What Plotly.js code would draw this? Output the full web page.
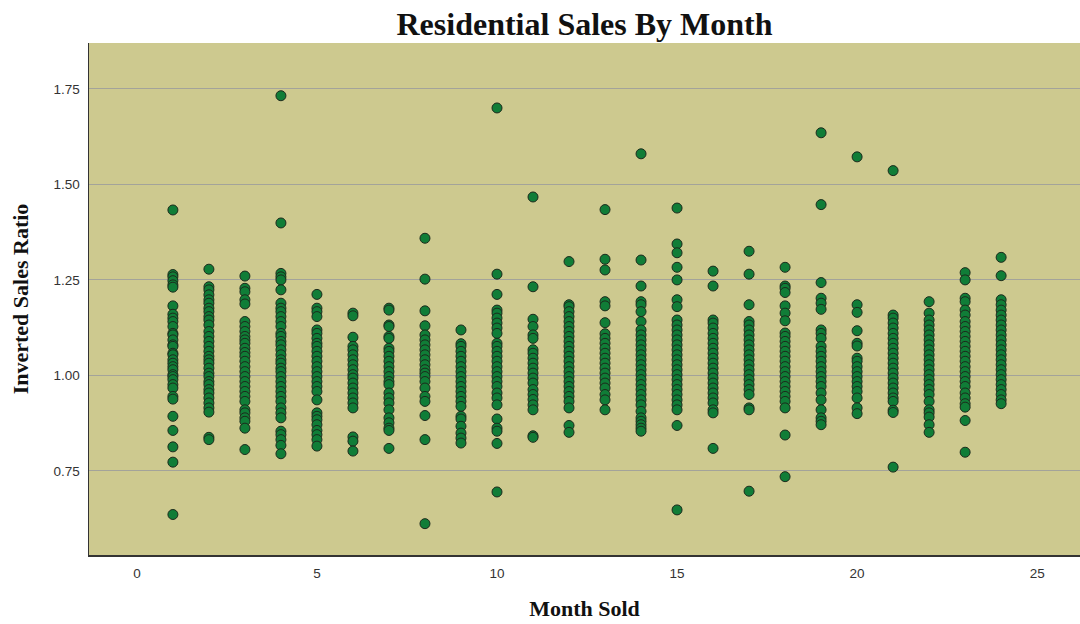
<!DOCTYPE html>
<html>
<head>
<meta charset="utf-8">
<script src="https://cdn.plot.ly/plotly-3.0.1.min.js"></script>
<style>html,body{margin:0;padding:0;background:#fff;}#chart{width:1080px;height:624px;}</style>
</head>
<body>
<div id="chart"></div>
<script>
const m1 = [1.433,1.264,1.258,1.248,1.237,1.231,1.182,1.160,1.150,1.141,1.128,1.110,1.106,1.093,1.080,1.076,1.058,1.054,1.041,1.032,1.023,1.015,1.002,0.997,0.989,0.976,0.967,0.945,0.938,0.893,0.856,0.813,0.773,0.636];
const m2 = [1.278,1.232,1.224,1.211,1.198,1.189,1.176,1.167,1.154,1.145,1.132,1.115,1.102,1.089,1.076,1.063,1.050,1.041,1.032,1.019,1.006,0.997,0.984,0.976,0.963,0.954,0.941,0.928,0.915,0.904,0.838,0.832];
const m3 = [1.260,1.228,1.219,1.198,1.187,1.141,1.128,1.115,1.102,1.093,1.084,1.071,1.060,1.050,1.037,1.023,1.010,0.997,0.984,0.971,0.958,0.945,0.932,0.910,0.902,0.889,0.880,0.862,0.806];
const m4 = [1.732,1.399,1.267,1.258,1.250,1.224,1.189,1.176,1.167,1.154,1.141,1.128,1.110,1.102,1.089,1.080,1.067,1.054,1.041,1.032,1.019,1.010,0.997,0.984,0.971,0.958,0.945,0.932,0.915,0.902,0.889,0.854,0.845,0.832,0.817,0.795];
const m5 = [1.212,1.176,1.167,1.154,1.119,1.110,1.097,1.084,1.076,1.063,1.050,1.037,1.023,1.010,0.997,0.984,0.971,0.958,0.936,0.902,0.893,0.884,0.871,0.856,0.845,0.832,0.815];
const m6 = [1.163,1.156,1.100,1.076,1.067,1.054,1.041,1.028,1.015,1.002,0.993,0.980,0.967,0.954,0.941,0.928,0.915,0.839,0.828,0.802];
const m7 = [1.176,1.171,1.132,1.128,1.102,1.097,1.071,1.063,1.050,1.037,1.023,1.010,0.997,0.984,0.976,0.954,0.941,0.928,0.910,0.889,0.876,0.862,0.856,0.809];
const m8 = [1.359,1.252,1.169,1.130,1.106,1.093,1.080,1.067,1.054,1.041,1.028,1.015,1.006,0.997,0.984,0.967,0.945,0.932,0.895,0.832,0.612];
const m9 = [1.119,1.083,1.076,1.063,1.050,1.037,1.023,1.010,0.997,0.984,0.971,0.958,0.945,0.932,0.919,0.893,0.886,0.867,0.849,0.836,0.823];
const m10 = [1.700,1.265,1.212,1.171,1.163,1.150,1.137,1.124,1.110,1.084,1.076,1.063,1.050,1.037,1.023,1.010,0.997,0.984,0.971,0.954,0.941,0.923,0.886,0.862,0.854,0.822,0.695];
const m11 = [1.467,1.232,1.147,1.128,1.106,1.097,1.067,1.058,1.045,1.032,1.019,1.006,0.993,0.980,0.963,0.950,0.937,0.923,0.910,0.842,0.838];
const m12 = [1.298,1.185,1.180,1.167,1.154,1.141,1.128,1.115,1.102,1.089,1.076,1.063,1.050,1.037,1.023,1.010,0.997,0.984,0.971,0.958,0.945,0.932,0.915,0.869,0.851];
const m13 = [1.434,1.304,1.276,1.193,1.182,1.138,1.109,1.097,1.084,1.071,1.058,1.045,1.032,1.019,1.006,0.993,0.980,0.967,0.950,0.936,0.910];
const m14 = [1.580,1.302,1.234,1.193,1.185,1.167,1.141,1.119,1.106,1.093,1.080,1.067,1.054,1.041,1.028,1.015,1.002,0.989,0.976,0.963,0.950,0.936,0.923,0.906,0.889,0.880,0.871,0.862,0.854];
const m15 = [1.438,1.344,1.321,1.283,1.250,1.198,1.180,1.145,1.132,1.119,1.106,1.093,1.080,1.067,1.054,1.041,1.028,1.015,1.002,0.989,0.976,0.963,0.950,0.936,0.923,0.910,0.869,0.648];
const m16 = [1.273,1.234,1.145,1.137,1.124,1.110,1.097,1.084,1.071,1.058,1.045,1.032,1.019,1.006,0.993,0.980,0.967,0.954,0.941,0.928,0.910,0.902,0.809];
const m17 = [1.325,1.265,1.185,1.141,1.132,1.119,1.106,1.093,1.080,1.067,1.054,1.041,1.028,1.015,1.002,0.989,0.976,0.963,0.950,0.915,0.910,0.697];
const m18 = [1.283,1.234,1.228,1.217,1.182,1.163,1.143,1.111,1.102,1.089,1.076,1.063,1.050,1.037,1.023,1.010,0.997,0.984,0.971,0.958,0.945,0.932,0.915,0.844,0.735];
const m19 = [1.635,1.447,1.243,1.202,1.189,1.173,1.119,1.110,1.097,1.076,1.063,1.050,1.037,1.023,1.010,0.997,0.984,0.971,0.954,0.936,0.910,0.889,0.880,0.871];
const m20 = [1.572,1.185,1.165,1.117,1.084,1.077,1.045,1.037,1.023,1.010,0.997,0.984,0.971,0.958,0.941,0.915,0.900];
const m21 = [1.536,1.158,1.150,1.137,1.124,1.110,1.097,1.084,1.071,1.058,1.045,1.032,1.019,1.006,0.993,0.980,0.967,0.954,0.941,0.932,0.909,0.903,0.760];
const m22 = [1.193,1.163,1.145,1.132,1.119,1.106,1.093,1.080,1.067,1.054,1.041,1.028,1.015,1.002,0.989,0.976,0.963,0.950,0.932,0.910,0.902,0.891,0.871,0.851];
const m23 = [1.269,1.250,1.202,1.193,1.171,1.158,1.141,1.128,1.115,1.102,1.089,1.076,1.063,1.050,1.037,1.023,1.010,0.997,0.984,0.971,0.954,0.941,0.926,0.917,0.882,0.799];
const m24 = [1.309,1.261,1.198,1.185,1.171,1.158,1.145,1.132,1.119,1.106,1.093,1.080,1.067,1.054,1.041,1.028,1.015,1.002,0.989,0.976,0.963,0.950,0.936,0.926];

const monthSeries = [m1,m2,m3,m4,m5,m6,m7,m8,m9,m10,m11,m12,m13,m14,m15,m16,m17,m18,m19,m20,m21,m22,m23,m24];
const xTickVals = [0,5,10,15,20,25];
const yTickVals = [0.75,1.00,1.25,1.50,1.75];
const yTickText = ["0.75","1.00","1.25","1.50","1.75"];

const xs = [], ys = [];
monthSeries.forEach((arr, i) => { arr.forEach(v => { xs.push(i + 1); ys.push(v); }); });

const trace = {
  type: 'scatter', mode: 'markers', x: xs, y: ys,
  marker: {size: 10, color: '#107d37', line: {color: '#1c2a1c', width: 1}},
  hoverinfo: 'x+y'
};

const serif = '"Liberation Serif", "DejaVu Serif", serif';
const sans = '"Liberation Sans", Arial, sans-serif';
const layout = {
  width: 1080, height: 624,
  margin: {l: 89, r: 0, t: 43, b: 69},
  paper_bgcolor: '#ffffff',
  plot_bgcolor: '#cdc98f',
  showlegend: false,
  title: {text: '<b>Residential Sales By Month</b>', x: 0.5, xref: 'paper', y: 0.962, yref: 'container', yanchor: 'middle',
          font: {family: serif, size: 32, color: '#111'}},
  xaxis: {
    range: [-1.33, 26.19], tickvals: xTickVals, ticktext: xTickVals.map(String),
    showgrid: false, zeroline: false, showline: true, linecolor: '#333', linewidth: 1.5,
    ticks: '', ticklabelstandoff: 5, tickfont: {family: sans, size: 13.5, color: '#333'},
    title: {text: '<b>Month Sold</b>', font: {family: serif, size: 22, color: '#111'}, standoff: 21},
    automargin: false
  },
  yaxis: {
    range: [0.53, 1.87], tickvals: yTickVals, ticktext: yTickText,
    showgrid: true, gridcolor: '#a3a39a', gridwidth: 1, zeroline: false,
    showline: true, linecolor: '#333', linewidth: 1.5,
    ticks: '', ticklabelstandoff: 5, tickfont: {family: sans, size: 13.5, color: '#333'},
    title: {text: '<b>Inverted Sales Ratio</b>', font: {family: serif, size: 22, color: '#111'}, standoff: 19},
    automargin: false
  }
};

Plotly.newPlot('chart', [trace], layout, {displayModeBar: false, staticPlot: true});
</script>
</body>
</html>
